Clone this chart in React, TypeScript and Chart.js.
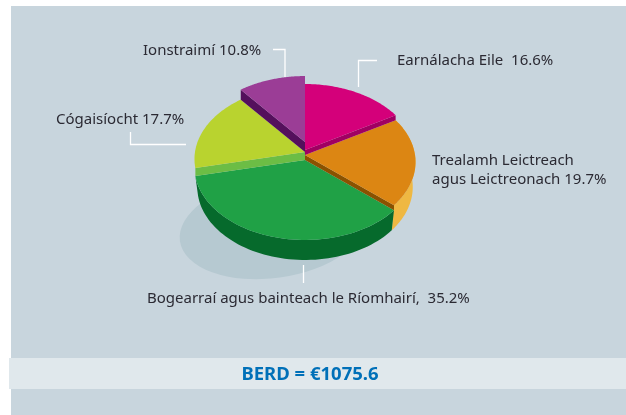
import React, { useEffect, useRef } from "react";
import { Chart, registerables } from "chart.js";

Chart.register(...registerables);

const categories = ["Earnálacha Eile", "Trealamh Leictreach agus Leictreonach", "Bogearraí agus bainteach le Ríomhairí", "Cógaisíocht", "Ionstraimí"];
const shares = [16.6, 19.7, 35.2, 17.7, 10.8];
const topColors = ["#d4007a", "#dc8613", "#20a146", "#b9d32f", "#9b3d96"];
const edgeColors = ["#a00062", "#8a5200", "", "#6cbd45", "#54105c"];
const lifts = [10, 5, 0, 8, 18];
const labelLines = [
  { text: "Earnálacha Eile  16.6%", x: 397, y: 60.5, align: "left" },
  { text: "Trealamh Leictreach", x: 432, y: 160.5, align: "left" },
  { text: "agus Leictreonach 19.7%", x: 432, y: 179.5, align: "left" },
  { text: "Bogearraí agus bainteach le Ríomhairí,  35.2%", x: 147, y: 298.5, align: "left" },
  { text: "Cógaisíocht 17.7%", x: 56, y: 119.5, align: "left" },
  { text: "Ionstraimí 10.8%", x: 143, y: 50.5, align: "left" },
];
const totalLabel = "BERD = €1075.6";
const leaders = [
  [[273, 49.5], [285, 49.5], [285, 77]],
  [[377, 60.5], [358.5, 60.5], [358.5, 87]],
  [[130.5, 132], [130.5, 144.5], [186, 144.5]],
  [[303.5, 265], [303.5, 283]],
];

const CX = 305, CY = 160, RX = 110, RY = 72.3, Q = 0.096, DEPTH = 20, BOTTOM_X = 0.975;
const FONT = '"Noto Sans", sans-serif';

function project(a: number, r: number, lift: number, sx = 1): [number, number] {
  const u = r * Math.cos(a), v = r * Math.sin(a);
  const w = 1 - Q * v;
  return [CX + (RX * sx * u) / w, CY + (RY * v) / w - lift];
}

function poly(ctx: CanvasRenderingContext2D, pts: [number, number][], fill: string) {
  ctx.beginPath();
  pts.forEach((p, i) => (i ? ctx.lineTo(p[0], p[1]) : ctx.moveTo(p[0], p[1])));
  ctx.closePath();
  ctx.fillStyle = fill;
  ctx.fill();
}

function arcPts(a0: number, a1: number, lift: number, sx = 1): [number, number][] {
  const out: [number, number][] = [];
  const n = 60;
  for (let i = 0; i <= n; i++) out.push(project(a0 + ((a1 - a0) * i) / n, 1, lift, sx));
  return out;
}

const pie3d = {
  id: "pie3d",
  beforeDraw(chart: any) {
    const ctx = chart.ctx as CanvasRenderingContext2D;
    ctx.save();
    ctx.fillStyle = "#ffffff";
    ctx.fillRect(0, 0, 626, 415);
    ctx.fillStyle = "#c8d5dd";
    ctx.fillRect(11, 6, 615, 409);
    ctx.fillStyle = "#e0e8ec";
    ctx.fillRect(9, 358, 617, 31);
    ctx.fillStyle = "#b6c9d1";
    ctx.beginPath();
    ctx.ellipse(273, 228, 94, 50, -0.14, 0, Math.PI * 2);
    ctx.fill();
    ctx.restore();
  },
  beforeDatasetDraw(chart: any) {
    const ctx = chart.ctx as CanvasRenderingContext2D;
    const arcs = chart.getDatasetMeta(0).data as any[];
    ctx.save();
    const wall = (i: number, color: string) => {
      const a = arcs[i];
      poly(ctx, [...arcPts(a.startAngle, a.endAngle, lifts[i]), ...arcPts(a.startAngle, a.endAngle, -DEPTH, BOTTOM_X).reverse()], color);
    };
    wall(1, "#efb842");
    wall(2, "#066a2c");
    const top = (i: number) => {
      const a = arcs[i];
      poly(ctx, [project(0, 0, lifts[i]), ...arcPts(a.startAngle, a.endAngle, lifts[i])], topColors[i]);
    };
    const edge = (i: number, angle: number, lower: number) => {
      poly(ctx, [project(0, 0, lifts[i]), project(angle, 1, lifts[i]), project(angle, 1, lower), project(0, 0, lower)], edgeColors[i]);
    };
    top(2);
    edge(1, arcs[1].endAngle, 0);
    top(1);
    edge(3, arcs[3].startAngle, 0);
    top(3);
    edge(0, arcs[0].endAngle, 5);
    top(0);
    edge(4, arcs[4].startAngle, 8);
    top(4);
    ctx.restore();
    return false;
  },
  afterDraw(chart: any) {
    const ctx = chart.ctx as CanvasRenderingContext2D;
    ctx.save();
    ctx.strokeStyle = "#ffffff";
    ctx.lineWidth = 1.3;
    leaders.forEach((l) => {
      ctx.beginPath();
      l.forEach((p, i) => (i ? ctx.lineTo(p[0], p[1]) : ctx.moveTo(p[0], p[1])));
      ctx.stroke();
    });
    ctx.fillStyle = "#2b2a33";
    ctx.font = `15px ${FONT}`;
    ctx.textBaseline = "middle";
    labelLines.forEach((t) => {
      ctx.textAlign = t.align as CanvasTextAlign;
      ctx.fillText(t.text, t.x, t.y);
    });
    ctx.fillStyle = "#0070b8";
    ctx.font = `bold 18.5px ${FONT}`;
    ctx.textAlign = "center";
    ctx.fillText(totalLabel, 310, 375);
    ctx.restore();
  },
};

export default function App() {
  const ref = useRef<HTMLCanvasElement>(null);
  useEffect(() => {
    document.body.style.margin = "0";
    const chart = new Chart(ref.current!, {
      type: "pie",
      data: { labels: categories, datasets: [{ data: shares, backgroundColor: topColors, borderWidth: 0 }] },
      options: {
        responsive: false,
        animation: false,
        plugins: { legend: { display: false }, tooltip: { enabled: false } },
      },
      plugins: [pie3d],
    } as any);
    return () => chart.destroy();
  }, []);
  return <canvas ref={ref} width={626} height={415} style={{ display: "block", width: 626, height: 415 }} />;
}
